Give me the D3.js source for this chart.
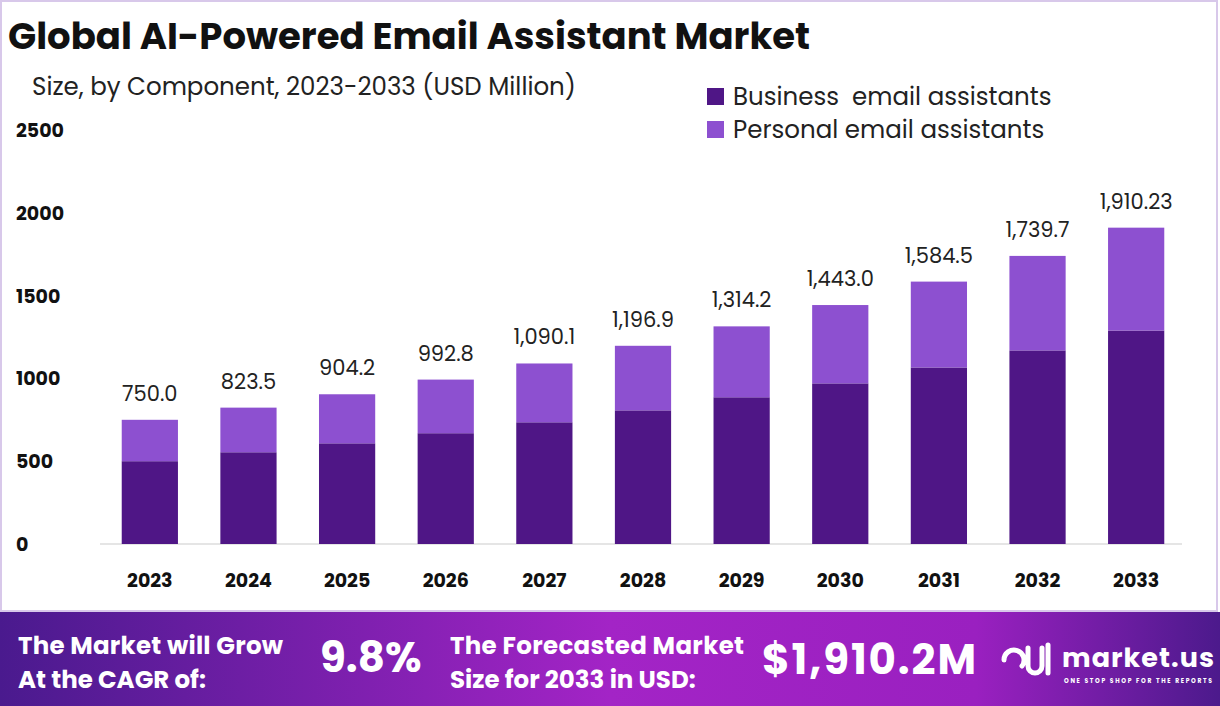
<!DOCTYPE html>
<html><head><meta charset="utf-8">
<script src="https://cdn.jsdelivr.net/npm/d3@7"></script>
<style>body{margin:0;background:#fff}svg{display:block;font-family:Poppins,"Open Sans",sans-serif}</style>
</head><body><svg id="chart" width="1220" height="706"></svg>
<script>
const years = ['2023','2024','2025','2026','2027','2028','2029','2030','2031','2032','2033']
const totals = [750.0, 823.5, 904.2, 992.8, 1090.1, 1196.9, 1314.2, 1443.0, 1584.5, 1739.7, 1910.23]
const totalLabels = ['750.0','823.5','904.2','992.8','1,090.1','1,196.9','1,314.2','1,443.0','1,584.5','1,739.7','1,910.23']
const business = [500, 554, 608, 669, 735, 807, 886, 970, 1066, 1169, 1289]
const seriesNames = ['Business  email assistants', 'Personal email assistants']
const colors = ['#4f1686', '#8d50d0']
const yTicks = [0, 500, 1000, 1500, 2000, 2500]

const svg = d3.select('#chart')

svg.append('rect').attr('x', 1).attr('y', 1).attr('width', 1216).attr('height', 610)
  .attr('fill', '#fff').attr('stroke', '#d8c8ea').attr('stroke-width', 2)

const x = d3.scaleBand().domain(years).range([102, 1184]).paddingInner(0.43).paddingOuter(0.2)
const y = d3.scaleLinear().domain([0, 2500]).range([544, 130])

svg.append('line').attr('x1', 100).attr('x2', 1182).attr('y1', y(0)).attr('y2', y(0))
  .attr('stroke', '#ddd').attr('stroke-width', 1.5)

svg.append('g').selectAll('text').data(yTicks).join('text')
  .attr('x', 16).attr('y', d => y(d) + 7).attr('font-size', 19).attr('font-weight', 700)
  .attr('fill', '#111').text(d => d)

svg.append('g').selectAll('text').data(years).join('text')
  .attr('x', d => x(d) + x.bandwidth() / 2).attr('y', 587).attr('text-anchor', 'middle')
  .attr('font-size', 19).attr('font-weight', 700).attr('fill', '#111').text(d => d)

const bars = svg.append('g')
bars.selectAll('rect.b').data(years).join('rect').attr('class', 'b')
  .attr('x', d => x(d)).attr('width', x.bandwidth())
  .attr('y', (d, i) => y(business[i])).attr('height', (d, i) => y(0) - y(business[i]))
  .attr('fill', colors[0])
bars.selectAll('rect.p').data(years).join('rect').attr('class', 'p')
  .attr('x', d => x(d)).attr('width', x.bandwidth())
  .attr('y', (d, i) => y(totals[i])).attr('height', (d, i) => y(business[i]) - y(totals[i]))
  .attr('fill', colors[1])
bars.selectAll('text').data(years).join('text')
  .attr('x', d => x(d) + x.bandwidth() / 2).attr('y', (d, i) => y(totals[i]) - 19)
  .attr('text-anchor', 'middle').attr('font-size', 21).attr('fill', '#222')
  .text((d, i) => totalLabels[i])

svg.append('text').attr('x', 8).attr('y', 49).attr('font-size', 37).attr('font-weight', 700)
  .attr('fill', '#111').text('Global AI-Powered Email Assistant Market')
svg.append('text').attr('x', 32).attr('y', 95).attr('font-size', 24.5).attr('fill', '#222')
  .text('Size, by Component, 2023-2033 (USD Million)')

const legend = svg.append('g').selectAll('g').data(seriesNames).join('g')
  .attr('transform', (d, i) => `translate(707,${88 + i * 33})`)
legend.append('rect').attr('width', 17).attr('height', 17).attr('fill', (d, i) => colors[i])
legend.append('text').attr('x', 26).attr('y', 17).attr('font-size', 24.5).attr('fill', '#222')
  .style('white-space', 'pre').text(d => d)

const defs = svg.append('defs')
const grad = defs.append('linearGradient').attr('id', 'band')
grad.selectAll('stop').data([['0%', '#4a1a8e'], ['50%', '#a324c6'], ['80%', '#9a20c0'], ['100%', '#4c1a8c']]).join('stop')
  .attr('offset', d => d[0]).attr('stop-color', d => d[1])
svg.append('rect').attr('x', 0).attr('y', 612).attr('width', 1220).attr('height', 94).attr('fill', 'url(#band)')

const banner = svg.append('g').attr('fill', '#fff').attr('font-weight', 700)
banner.append('text').attr('x', 18).attr('y', 654).attr('font-size', 24.5).attr('textLength', 265).text('The Market will Grow')
banner.append('text').attr('x', 18).attr('y', 688).attr('font-size', 24.5).text('At the CAGR of:')
banner.append('text').attr('x', 320).attr('y', 672).attr('font-size', 42).text('9.8%')
banner.append('text').attr('x', 450).attr('y', 654).attr('font-size', 24.5).attr('textLength', 294).text('The Forecasted Market')
banner.append('text').attr('x', 450).attr('y', 688).attr('font-size', 24.5).text('Size for 2033 in USD:')
banner.append('text').attr('x', 762).attr('y', 674).attr('font-size', 42).attr('textLength', 214).text('$1,910.2M')
banner.append('text').attr('x', 1062).attr('y', 667).attr('font-size', 27).attr('textLength', 152).text('market.us')
banner.append('text').attr('x', 1064).attr('y', 683).attr('font-size', 6).attr('textLength', 148).text('ONE STOP SHOP FOR THE REPORTS')
banner.append('path').attr('d', 'M1004,660 a10,10 0 1,1 18,6 M1028,648 v18 a7,7 0 0,0 14,0 v-18 M1048,645 v28')
  .attr('fill', 'none').attr('stroke', '#fff').attr('stroke-width', 5).attr('stroke-linecap', 'round')
</script></body></html>
